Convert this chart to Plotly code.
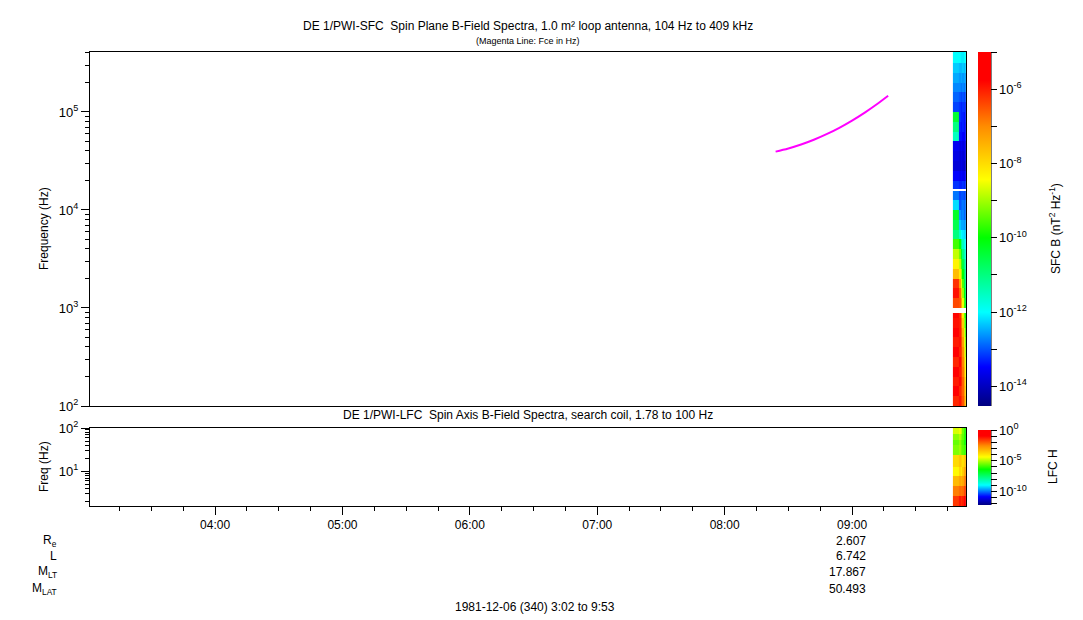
import numpy as np
import plotly.graph_objects as go

PAGE_OFF = 8          # default body margin of the html page
W, H = 1083 - PAGE_OFF, 620 - PAGE_OFF
FONT = "Liberation Sans, Arial, sans-serif"

# ---------------- data ----------------
# SFC (top panel) time-bin edges and log10 frequency-bin edges (top -> bottom)
sfc_time_edges = ["1981-12-06 09:47:30", "1981-12-06 09:50:20", "1981-12-06 09:51:10",
                  "1981-12-06 09:51:50", "1981-12-06 09:52:30", "1981-12-06 09:53:00",
                  "1981-12-06 09:53:30"]
sfc_logf_edges = [5.6117, 5.5, 5.4, 5.3, 5.2, 5.1, 5.0, 4.9, 4.8, 4.7, 4.6, 4.5, 4.4, 4.3,
                  4.21, 4.19, 4.1, 4.0, 3.9, 3.8, 3.7, 3.6, 3.5, 3.4, 3.3, 3.2, 3.1, 3.0,
                  2.95, 2.9, 2.8, 2.7, 2.6, 2.5, 2.4, 2.3, 2.2, 2.1, 2.0]
# log10 spectral density (nT^2/Hz) per time column, rows top -> bottom (None = no data)
sfc_0947 = [-12.0, -12.3, -12.5, -12.7, -12.9, -13.1, -10.4, -11.0, -11.5, -13.6, -13.7, -13.8,
            -13.5, -13.2, None, -12.8, -12.2, -10.3, -10.6, -11.0, -9.6, -8.8, -8.3, -7.6,
            -6.2, -5.9, -6.4, None, -5.8, -5.9, -5.6, -6.0, -5.7, -6.1, -5.6, -6.0, -5.7, -6.1]
sfc_0950 = [-12.0, -12.4, -12.6, -12.7, -13.0, -13.2, -13.2, -13.3, -13.4, -13.7, -13.8, -13.8,
            -13.6, -13.3, None, -13.1, -13.0, -12.6, -12.3, -11.6, -10.0, -9.3, -8.8, -8.2,
            -7.2, -6.6, -6.5, None, -6.1, -6.0, -6.0, -5.9, -6.1, -5.8, -6.0, -5.8, -6.1, -5.9]
sfc_0951a = [-12.1, -12.4, -12.5, -12.8, -13.1, -13.3, -13.3, -13.4, -13.4, -13.6, -13.7, -13.7,
             -13.5, -13.3, None, -13.0, -12.9, -12.8, -12.5, -12.0, -11.0, -10.2, -9.6, -9.0,
             -8.5, -7.8, -7.2, None, -6.9, -6.7, -6.5, -6.4, -6.3, -6.2, -6.2, -6.1, -6.3, -6.2]
sfc_0951b = [-12.1, -12.3, -12.6, -12.7, -13.0, -13.2, -13.3, -13.3, -13.5, -13.7, -13.8, -13.8,
             -13.6, -13.2, None, -13.0, -12.8, -12.7, -12.5, -12.1, -11.5, -11.0, -10.5, -10.0,
             -9.5, -9.0, -8.5, None, -8.2, -7.8, -7.5, -7.2, -7.0, -6.9, -6.8, -6.6, -6.6, -6.5]
sfc_0952 = [-12.0, -12.4, -12.5, -12.8, -13.1, -13.2, -13.4, -13.4, -13.5, -13.6, -13.7, -13.9,
            -13.6, -13.3, None, -13.1, -12.9, -12.9, -12.6, -12.2, -11.8, -11.4, -11.0, -10.7,
            -10.4, -10.0, -9.6, None, -9.3, -9.0, -8.6, -8.3, -8.0, -7.7, -7.5, -7.3, -7.2, -7.0]
sfc_0953 = [-12.0, -12.3, -12.6, -12.7, -13.0, -13.3, -13.3, -13.4, -13.4, -13.7, -13.7, -13.8,
            -13.5, -13.2, None, -13.0, -12.8, -12.8, -12.5, -12.2, -12.0, -11.7, -11.4, -11.2,
            -11.0, -10.7, -10.3, None, -10.0, -9.8, -9.5, -9.2, -8.9, -8.6, -8.3, -8.0, -7.8, -7.6]

# LFC (bottom panel)
lfc_time_edges = sfc_time_edges
lfc_logf_edges = [2.0, 1.86, 1.72, 1.6, 1.38, 1.1, 0.89, 0.67, 0.44, 0.2]
lfc_0947 = [-4.7, -5.3, -5.6, -5.4, -3.8, -4.3, -3.3, -2.4, -1.6]
lfc_0950 = [-4.5, -5.0, -5.3, -5.2, -3.5, -3.8, -3.0, -2.2, -1.2]
lfc_0951a = [-4.8, -5.3, -5.6, -5.5, -3.7, -4.1, -3.2, -2.3, -1.5]
lfc_0951b = [-5.5, -5.6, -5.8, -5.7, -3.9, -3.6, -3.0, -2.2, -1.3]
lfc_0952 = [-6.0, -6.0, -6.2, -5.9, -3.6, -3.0, -2.5, -1.8, -1.0]
lfc_0953 = [-6.2, -6.3, -6.5, -6.0, -3.3, -2.8, -2.2, -1.6, -0.8]

# Electron cyclotron frequency (magenta line)
fce_times = ["1981-12-06 08:24", "1981-12-06 08:30", "1981-12-06 08:36", "1981-12-06 08:42",
             "1981-12-06 08:48", "1981-12-06 08:54", "1981-12-06 09:00", "1981-12-06 09:06",
             "1981-12-06 09:12", "1981-12-06 09:17"]
fce_hz = [39400, 42400, 46500, 52000, 59300, 68900, 81700, 98600, 121300, 146200]

# tick labels
hour_ticks = ["1981-12-06 04:00", "1981-12-06 05:00", "1981-12-06 06:00",
              "1981-12-06 07:00", "1981-12-06 08:00", "1981-12-06 09:00"]
hour_labels = ["04:00", "05:00", "06:00", "07:00", "08:00", "09:00"]
orbit_names = ["R<sub>e</sub>", "L", "M<sub>LT</sub>", "M<sub>LAT</sub>"]
orbit_values = ["2.607", "6.742", "17.867", "50.493"]
x_range = ["1981-12-06 03:01:06", "1981-12-06 09:53:40"]

# ---------------- figure ----------------
def col(v):
    return [np.nan if a is None else a for a in v]

sfc_z = np.array([col(c) for c in [sfc_0947, sfc_0950, sfc_0951a, sfc_0951b, sfc_0952, sfc_0953]]).T
lfc_z = np.array([lfc_0947, lfc_0950, lfc_0951a, lfc_0951b, lfc_0952, lfc_0953]).T

cs = [[0, '#00007f'], [0.11, '#0000ff'], [0.265, '#00ffff'], [0.475, '#00ff00'],
      [0.64, '#ffff00'], [0.79, '#ff8c00'], [0.92, '#ff0000'], [1, '#ff0000']]

# page-pixel -> paper coordinates
def px_x(p):
    return (p - PAGE_OFF) / W

def px_y(p):
    return 1 - (p - PAGE_OFF) / H

top_dom = [px_y(406), px_y(52)]
bot_dom = [px_y(506), px_y(428)]
x_dom = [px_x(90), px_x(966)]

def sup(e):
    return "10<sup>%d</sup>" % e

fig = go.Figure()

fig.add_trace(go.Heatmap(
    x=sfc_time_edges, y=[10 ** e for e in sfc_logf_edges], z=sfc_z,
    colorscale=cs, zmin=-14.53, zmax=-5.0, zsmooth=False, xaxis="x", yaxis="y",
    colorbar=dict(x=px_x(978), xanchor="left", xpad=0, y=px_y(406), yanchor="bottom",
                  len=354 / H, lenmode="fraction", ypad=0, thickness=13, outlinewidth=0,
                  tickmode="array", tickvals=list(range(-14, -4)),
                  ticktext=[sup(e) if e % 2 == 0 else "" for e in range(-14, -4)],
                  ticks="outside", ticklen=6, tickcolor="black",
                  tickfont=dict(family=FONT, size=13, color="black"))))

fig.add_trace(go.Scatter(x=fce_times, y=fce_hz, mode="lines",
                         line=dict(color="#ff00ff", width=2, shape="spline", smoothing=1.0),
                         xaxis="x", yaxis="y", showlegend=False))

fig.add_trace(go.Heatmap(
    x=lfc_time_edges, y=[10 ** e for e in lfc_logf_edges], z=lfc_z,
    colorscale=cs, zmin=-12.2, zmax=0.0, zsmooth=False, xaxis="x2", yaxis="y2",
    colorbar=dict(x=px_x(978), xanchor="left", xpad=0, y=px_y(505), yanchor="bottom",
                  len=75 / H, lenmode="fraction", ypad=0, thickness=13, outlinewidth=0,
                  tickmode="array", tickvals=list(range(-12, 1)),
                  ticktext=[sup(e) if e % 5 == 0 else "" for e in range(-12, 1)],
                  ticks="outside", ticklen=6, tickcolor="black",
                  tickfont=dict(family=FONT, size=13, color="black"))))

axis_common = dict(showgrid=False, zeroline=False, showline=True, linecolor="black",
                   linewidth=1, mirror=True, tickcolor="black",
                   tickfont=dict(family=FONT, size=12, color="black"))

minor_top = [m * 10 ** e for e in range(2, 6) for m in range(2, 10) if m * 10 ** e < 409000]
minor_bot = [m * 10 ** e for e in range(0, 2) for m in range(2, 10) if m * 10 ** e > 1.58]

fig.update_layout(
    width=W, height=H, margin=dict(l=0, r=0, t=0, b=0, autoexpand=False),
    paper_bgcolor="white", plot_bgcolor="white", showlegend=False,
    font=dict(family=FONT, size=12, color="black"),
    xaxis=dict(domain=x_dom, anchor="y", type="date", range=x_range,
               showticklabels=False, ticks="", **axis_common),
    yaxis=dict(domain=top_dom, anchor="x", type="log", range=[2, 5.6117],
               tickmode="array", tickvals=[1e2, 1e3, 1e4, 1e5],
               ticktext=[sup(2), sup(3), sup(4), sup(5)], ticks="outside", ticklen=8,
               minor=dict(tickmode="array", tickvals=minor_top, ticks="outside", ticklen=4,
                          tickcolor="black"),
               **{**axis_common, "tickfont": dict(family=FONT, size=13, color="black")}),
    xaxis2=dict(domain=x_dom, anchor="y2", type="date", range=x_range,
                tickmode="array", tickvals=hour_ticks, ticktext=hour_labels,
                ticks="outside", ticklen=8,
                minor=dict(ticks="outside", ticklen=4, dtick=15 * 60 * 1000,
                           tick0="1981-12-06 03:00", tickcolor="black"),
                **axis_common),
    yaxis2=dict(domain=bot_dom, anchor="x2", type="log", range=[0.2, 2],
                tickmode="array", tickvals=[10, 100], ticktext=[sup(1), sup(2)],
                ticks="outside", ticklen=8,
                minor=dict(tickmode="array", tickvals=minor_bot, ticks="outside", ticklen=4,
                           tickcolor="black"),
                **{**axis_common, "tickfont": dict(family=FONT, size=13, color="black")}),
)

def ann(text, x, y, size=12, xanchor="center", angle=0):
    fig.add_annotation(text=text, x=px_x(x), y=px_y(y), xref="paper", yref="paper",
                       xanchor=xanchor, yanchor="middle", showarrow=False, textangle=angle,
                       font=dict(family=FONT, size=size, color="black"))

ann("DE 1/PWI-SFC\u00a0 Spin Plane B-Field Spectra, 1.0 m\u00b2 loop antenna, 104 Hz to 409 kHz",
    528, 26)
ann("(Magenta Line: Fce in Hz)", 528, 41, size=9)
ann("DE 1/PWI-LFC\u00a0 Spin Axis B-Field Spectra, search coil, 1.78 to 100 Hz", 528, 415)
ann("Frequency (Hz)", 44, 229, angle=-90)
ann("Freq (Hz)", 44, 467, angle=-90)
ann("SFC B (nT<sup>2</sup> Hz<sup>-1</sup>)", 1055, 229, angle=-90)
ann("LFC H", 1053, 467, angle=-90)

row_y = [541, 556, 572, 589]
for name, val, yy in zip(orbit_names, orbit_values, row_y):
    ann(name, 59, yy, xanchor="right")
    ann(val, 868, yy, xanchor="right")
ann("1981-12-06 (340) 3:02 to 9:53", 535, 607)

# vertical axis line along the right side of each colour bar
fig.add_shape(type="line", xref="paper", yref="paper", x0=px_x(991), x1=px_x(991),
              y0=px_y(406), y1=px_y(52), line=dict(color="black", width=1))
fig.add_shape(type="line", xref="paper", yref="paper", x0=px_x(991), x1=px_x(991),
              y0=px_y(505), y1=px_y(430), line=dict(color="black", width=1))

fig.write_html("out.html")
